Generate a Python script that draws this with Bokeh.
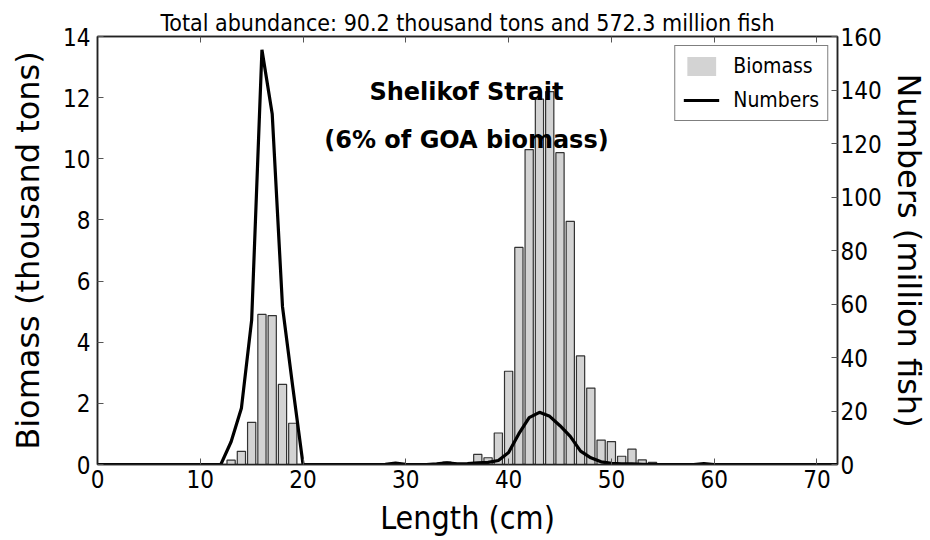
from bokeh.plotting import figure
from bokeh.models import Range1d, LinearAxis, FixedTicker, Label, Legend, LegendItem, ColumnDataSource
from bokeh.embed import file_html
from bokeh.resources import INLINE

# Length bins (cm)
lengths = list(range(0, 73))

# Biomass (thousand tons) per 1-cm length bin
biomass = [
    0, 0, 0, 0, 0, 0, 0, 0, 0, 0,            # 0-9
    0, 0, 0, 0.14, 0.43, 1.38, 4.91, 4.87, 2.62, 1.35,   # 10-19
    0, 0, 0, 0, 0, 0, 0, 0, 0, 0,            # 20-29
    0, 0, 0, 0, 0.08, 0, 0, 0.33, 0.22, 1.03,   # 30-39
    3.05, 7.1, 10.3, 11.95, 12.2, 10.2, 7.95, 3.55, 2.5, 0.8,  # 40-49
    0.75, 0.27, 0.5, 0.15, 0.07, 0, 0, 0, 0, 0,   # 50-59
    0, 0, 0, 0, 0, 0, 0, 0, 0, 0,            # 60-69
    0, 0, 0,                                 # 70-72
]

# Numbers (million fish) per 1-cm length bin
numbers = [
    0, 0, 0, 0, 0, 0, 0, 0, 0, 0,            # 0-9
    0, 0, 0, 8.5, 21, 54, 155, 131, 59, 29,  # 10-19
    0, 0, 0, 0, 0, 0, 0, 0, 0.1, 0.5,        # 20-29
    0.1, 0, 0, 0.2, 0.6, 0.2, 0.3, 0.6, 0.8, 1.5,  # 30-39
    4.5, 11.5, 17.5, 19.5, 18, 14.5, 10.5, 5, 2.5, 1,  # 40-49
    0.4, 0.2, 0.2, 0.1, 0, 0, 0, 0, 0, 0.3,  # 50-59
    0, 0, 0, 0, 0, 0, 0, 0, 0, 0,            # 60-69
    0, 0, 0,                                 # 70-72
]

x_ticks = [0, 10, 20, 30, 40, 50, 60, 70]
y_ticks = [0, 2, 4, 6, 8, 10, 12, 14]
y2_ticks = [0, 20, 40, 60, 80, 100, 120, 140, 160]

title_text = "Total abundance: 90.2 thousand tons and 572.3 million fish"
note_line1 = "Shelikof Strait"
note_line2 = "(6% of GOA biomass)"

NARROW = "'DejaVu Sans Condensed', 'DejaVu Sans', sans-serif"
WIDE = "DejaVu Sans"

p = figure(width=930, height=540, x_range=Range1d(0, 72), y_range=Range1d(0, 14),
           output_backend="svg", toolbar_location=None,
           min_border_left=97, min_border_right=89, min_border_top=36, min_border_bottom=76)
p.extra_y_ranges = {"num": Range1d(0, 160)}
p.xgrid.visible = False
p.ygrid.visible = False
p.outline_line_color = "#222222"
p.outline_line_width = 1.5
p.background_fill_color = "white"
p.border_fill_color = "white"

p.title.text = title_text
p.title.align = "center"
p.title.text_font = NARROW
p.title.text_font_size = "23px"
p.title.text_font_style = "normal"
p.title.text_color = "black"
p.title.standoff = 2
p.title.offset = 0

bar_src = ColumnDataSource(dict(
    x=[l for l, b in zip(lengths, biomass) if b > 0],
    top=[b for b in biomass if b > 0],
))
# legend swatch renderer (same bars, no outline, drawn underneath the outlined bars)
bar_key = p.vbar(x="x", top="top", width=0.8, bottom=0, source=bar_src,
                 fill_color="#d3d3d3", line_color=None)
bars = p.vbar(x="x", top="top", width=0.8, bottom=0, source=bar_src,
              fill_color="#d3d3d3", line_color="#333333", line_width=1.2)

line_src = ColumnDataSource(dict(x=lengths, y=numbers))
ln = p.line(x="x", y="y", source=line_src, y_range_name="num",
            line_color="black", line_width=3.2)

def style_axis(ax, ticks, font, size, standoff):
    ax.ticker = FixedTicker(ticks=ticks)
    ax.major_tick_in = 6
    ax.major_tick_out = 0
    ax.minor_tick_line_color = None
    ax.major_tick_line_color = "#555555"
    ax.axis_line_color = "#222222"
    ax.axis_line_width = 1.5
    ax.major_label_text_font = font
    ax.major_label_text_font_size = size
    ax.major_label_text_color = "black"
    ax.major_label_standoff = standoff
    ax.axis_label_text_color = "black"
    ax.axis_label_text_font_style = "normal"

xa = p.xaxis[0]
style_axis(xa, x_ticks, NARROW, "24px", 5)
xa.axis_label = "Length (cm)"
xa.axis_label_text_font = NARROW
xa.axis_label_text_font_size = "32px"
xa.axis_label_standoff = 8

ya = p.yaxis[0]
style_axis(ya, y_ticks, NARROW, "24px", 7)
ya.axis_label = "Biomass (thousand tons)"
ya.axis_label_text_font = WIDE
ya.axis_label_text_font_size = "32px"
ya.axis_label_standoff = 13

ra = LinearAxis(y_range_name="num")
style_axis(ra, y2_ticks, NARROW, "24px", 3)
ra.axis_label = "Numbers (million fish)"
ra.axis_label_text_font = WIDE
ra.axis_label_text_font_size = "32px"
ra.axis_label_standoff = 5
p.add_layout(ra, "right")

ta = LinearAxis()
style_axis(ta, x_ticks, NARROW, "0px", 0)
ta.major_label_text_alpha = 0
p.add_layout(ta, "above")

p.add_layout(Label(x=35.9, y=12.17, text=note_line1, text_align="center", text_baseline="middle",
                   text_font=WIDE, text_font_style="bold", text_font_size="24px", text_color="black"))
p.add_layout(Label(x=35.9, y=10.6, text=note_line2, text_align="center", text_baseline="middle",
                   text_font=WIDE, text_font_style="bold", text_font_size="24px", text_color="black"))

legend = Legend(items=[LegendItem(label="Biomass", renderers=[bar_key]),
                       LegendItem(label="Numbers", renderers=[ln])],
                location="top_right")
legend.label_text_font = NARROW
legend.label_text_font_size = "21px"
legend.label_text_color = "black"
legend.glyph_width = 36
legend.glyph_height = 24
legend.label_height = 24
legend.spacing = 10
legend.padding = 8
legend.margin = 9
legend.label_standoff = 14
legend.border_line_color = "black"
legend.border_line_width = 1.2
legend.background_fill_color = "white"
legend.background_fill_alpha = 1
p.add_layout(legend)

open("out.html", "w").write(file_html(p, INLINE))
